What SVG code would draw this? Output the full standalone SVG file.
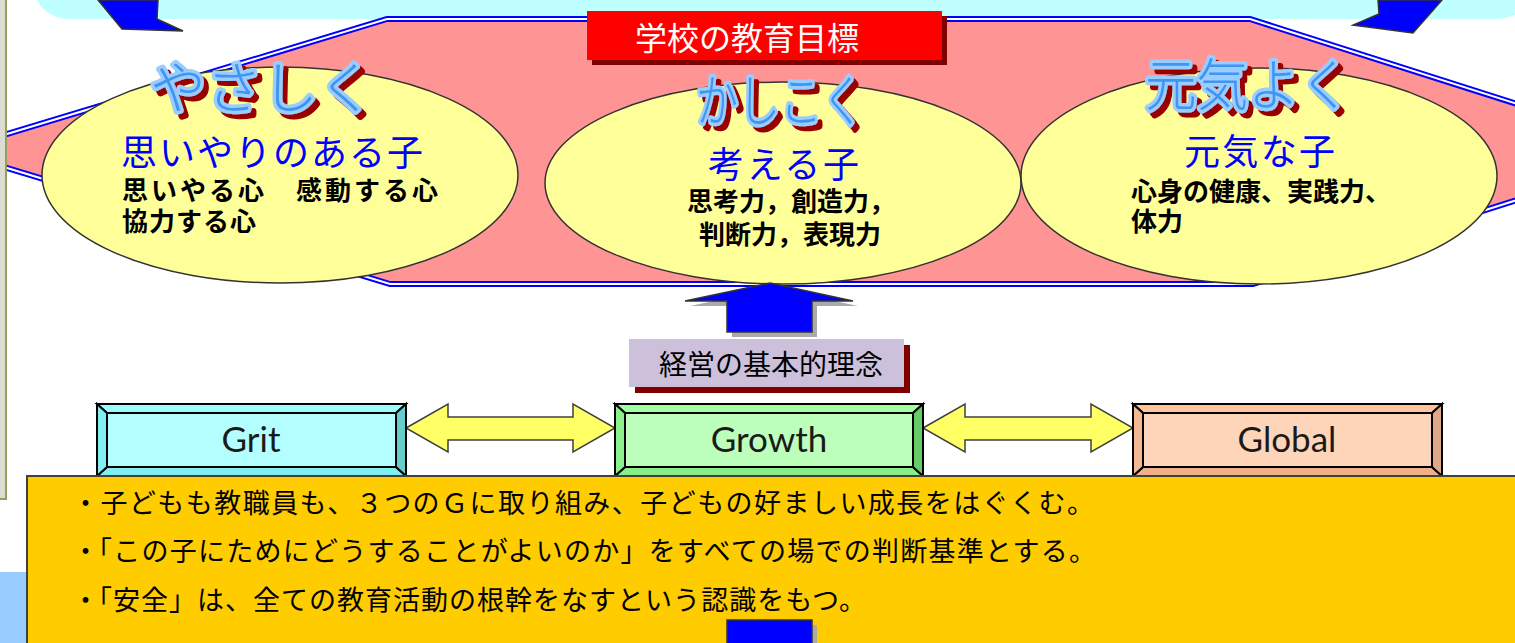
<svg xmlns="http://www.w3.org/2000/svg" width="1515" height="643" viewBox="0 0 1515 643">
<defs>
<filter id="redshadow" x="-10%" y="-20%" width="130%" height="150%">
<feFlood flood-color="#990000" result="c"/>
<feComposite in="c" in2="SourceAlpha" operator="in" result="s"/>
<feOffset in="s" dx="5" dy="5" result="o"/>
<feMerge><feMergeNode in="o"/><feMergeNode in="SourceGraphic"/></feMerge>
</filter>
<style>
.jp{font-family:"Noto Sans CJK JP","Noto Sans CJK SC",sans-serif;}
.hd{font-family:"Noto Sans CJK JP",sans-serif;font-size:56px;fill:#3F95F0;stroke:#99CCFF;stroke-width:7;paint-order:stroke;stroke-linejoin:round;font-weight:300;filter:url(#redshadow);}
.sub{font-size:36px;fill:#0000FF;}
.blk{font-size:26px;fill:#000;font-weight:bold;}
.bul{font-size:27px;fill:#000;}
.bx{stroke:#000;stroke-width:2;stroke-linejoin:miter;}
.en{font-family:Lato,"Liberation Sans",sans-serif;font-size:35px;fill:#1a1a1a;text-anchor:middle;}
.dar{fill:#FFFF66;stroke:#404040;stroke-width:1.5;stroke-linejoin:miter;}
.blue{fill:#0000FF;stroke:#333;stroke-width:1.5;}
.shd{fill:#AAAAAA;}
.ell{fill:#FFFF99;stroke:#333;stroke-width:1.5;}
</style>
</defs>

<!-- background -->
<rect x="0" y="0" width="1515" height="643" fill="#FFFFFF"/>
<rect x="33" y="-60" width="1500" height="79" rx="35" ry="35" fill="#C0FFFF"/>
<polygon class="blue" points="98,0 122,29 183,31 157,19 158,0"/>
<polygon class="blue" points="1378,0 1379,14 1353,25 1413,33 1442,0"/>

<!-- school goals band -->
<g id="goals-band">
<polygon points="-49,151 387,19 1250,19 1668,152 1253,284 390,284" fill="#FF9494" stroke="#0000FF" stroke-width="6" stroke-linejoin="miter"/>
<polygon points="-49,151 387,19 1250,19 1668,152 1253,284 390,284" fill="none" stroke="#FFFFFF" stroke-width="2"/>
</g>

<g id="title">
<rect x="592" y="16" width="355" height="49" fill="#800000"/>
<rect x="587" y="11" width="355" height="49" fill="#FF0000"/>
<text class="jp" x="635" y="50" font-size="32" fill="#FFFFFF">学校の教育目標</text>
</g>

<g id="yasashiku">
<ellipse class="ell" cx="280" cy="175" rx="238" ry="108"/>
<text class="hd" x="150" y="108">やさしく</text>
<text class="jp sub" x="121" y="166" textLength="302" lengthAdjust="spacing">思いやりのある子</text>
<text class="jp blk" x="122" y="200" textLength="316" lengthAdjust="spacing">思いやる心　感動する心</text>
<text class="jp blk" x="122" y="231" textLength="134" lengthAdjust="spacing">協力する心</text>
</g>

<g id="kashikoku">
<ellipse class="ell" cx="783" cy="183" rx="238" ry="101"/>
<text class="hd" x="696" y="121" textLength="168" lengthAdjust="spacingAndGlyphs">かしこく</text>
<text class="jp sub" x="708" y="178" textLength="151" lengthAdjust="spacing">考える子</text>
<text class="jp blk" x="687" y="211" font-size="24">思考力，創造力，</text>
<text class="jp blk" x="699" y="244" font-size="24">判断力，表現力</text>
</g>

<g id="genkiyoku">
<ellipse class="ell" cx="1259" cy="176" rx="238" ry="108"/>
<text class="hd" x="1145" y="105" textLength="206" lengthAdjust="spacingAndGlyphs">元気よく</text>
<text class="jp sub" x="1184" y="165" textLength="151" lengthAdjust="spacing">元気な子</text>
<text class="jp blk" x="1131" y="201">心身の健康、実践力、</text>
<text class="jp blk" x="1131" y="231">体力</text>
</g>

<g id="connectors">
<polygon class="shd" points="775,288 858,306 817,306 817,337 732,337 732,306 690,306"/>
<polygon class="blue" points="770,283 853,301 812,301 812,332 727,332 727,301 685,301"/>
<polygon class="dar" points="406,428 448,404 448,417 573,417 573,404 615,428 573,452 573,440 448,440 448,452"/>
<polygon class="dar" points="923,428 965,404 965,417 1091,417 1091,404 1133,428 1091,452 1091,440 965,440 965,452"/>
</g>

<g id="philosophy">
<rect x="635" y="345" width="275" height="48" fill="#800000"/>
<rect x="629" y="339" width="275" height="48" fill="#CCC0DA"/>
<text class="jp" x="659" y="375" font-size="28" fill="#000">経営の基本的理念</text>
</g>

<g id="grit">
<polygon class="bx" fill="#9CFCFC" points="97,404 406,404 396,413 107,413"/>
<polygon class="bx" fill="#7FEFEF" points="97,476 406,476 396,467 107,467"/>
<polygon class="bx" fill="#80F0F0" points="97,404 107,413 107,467 97,476"/>
<polygon class="bx" fill="#66CCCC" points="406,404 396,413 396,467 406,476"/>
<rect class="bx" x="107" y="413" width="289" height="54" fill="#B3FFFF"/>
<text class="en" x="251" y="452">Grit</text>
</g>

<g id="growth">
<polygon class="bx" fill="#A0FFA0" points="615,404 923,404 913,413 625,413"/>
<polygon class="bx" fill="#88EE88" points="615,476 923,476 913,467 625,467"/>
<polygon class="bx" fill="#8CF08C" points="615,404 625,413 625,467 615,476"/>
<polygon class="bx" fill="#66CC66" points="923,404 913,413 913,467 923,476"/>
<rect class="bx" x="625" y="413" width="288" height="54" fill="#BBFFBB"/>
<text class="en" x="769" y="452">Growth</text>
</g>

<g id="global">
<polygon class="bx" fill="#FFC49E" points="1133,404 1442,404 1432,413 1143,413"/>
<polygon class="bx" fill="#F0B088" points="1133,476 1442,476 1432,467 1143,467"/>
<polygon class="bx" fill="#F5B890" points="1133,404 1143,413 1143,467 1133,476"/>
<polygon class="bx" fill="#E0A888" points="1442,404 1432,413 1432,467 1442,476"/>
<rect class="bx" x="1143" y="413" width="289" height="54" fill="#FFD5B9"/>
<text class="en" x="1287" y="452">Global</text>
</g>

<!-- left strip and lower left -->
<rect x="-5" y="-5" width="11" height="504" fill="#DCDCD2" stroke="#8FA060" stroke-width="2"/>
<rect x="0" y="572" width="30" height="71" fill="#99CCFF"/>

<g id="policy">
<rect x="27" y="476" width="1500" height="180" fill="#FFCC00" stroke="#404040" stroke-width="2"/>
<text class="jp bul" x="72" y="513" textLength="1022" lengthAdjust="spacing">・子どもも教職員も、３つのＧに取り組み、子どもの好ましい成長をはぐくむ。</text>
<text class="jp bul" x="72" y="561">・</text>
<text class="jp bul" x="85" y="561" textLength="1011" lengthAdjust="spacing">「この子にためにどうすることがよいのか」をすべての場での判断基準とする。</text>
<text class="jp bul" x="72" y="610">・</text>
<text class="jp bul" x="85" y="610" textLength="781" lengthAdjust="spacing">「安全」は、全ての教育活動の根幹をなすという認識をもつ。</text>
<rect class="shd" x="732" y="625" width="85" height="30"/>
<rect class="blue" x="727" y="620" width="85" height="30"/>
</g>
</svg>
